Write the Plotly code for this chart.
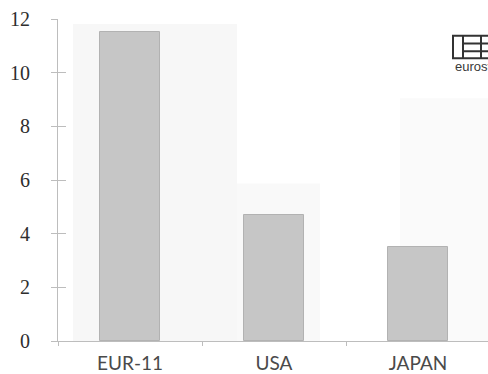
import plotly.graph_objects as go

# Values plotted per economic area
categories = ["EUR-11", "USA", "JAPAN"]
values = [11.5, 4.7, 3.5]
y_ticks = [0, 2, 4, 6, 8, 10, 12]
y_tick_labels = ["0", "2", "4", "6", "8", "10", "12"]

W, H = 488, 374
L, R, T, B = 58, 0, 19, 26
pw, ph = W - L - R, H - T - B
x_range = [-0.5, -0.5 + pw / 144.0]
y_range = [0, 12]


def px_x(p):
    return x_range[0] + (p - L) / pw * (x_range[1] - x_range[0])


def px_y(p):
    return (H - B - p) / ph * (y_range[1] - y_range[0])


def pap_x(p):
    return (p - L) / pw


def pap_y(p):
    return (H - B - p) / ph


fig = go.Figure()
fig.add_trace(go.Bar(
    x=categories, y=values, width=0.415,
    marker=dict(color="#c6c6c6", line=dict(color="#b2b2b2", width=1)),
    hoverinfo="skip",
))
# invisible trace so the secondary (inner tick) axis is drawn
fig.add_trace(go.Scatter(x=[categories[0]], y=[0], yaxis="y2", mode="markers",
                         marker=dict(opacity=0), hoverinfo="skip", showlegend=False))

shapes = []
# faint paper tone behind parts of the plot
for x0, x1, y0, y1, c in [
    (73, 237, 24, 348, "#f7f7f7"),
    (237, 320, 187, 348, "#f9f9f9"),
    (400, 488, 100, 348, "#fafafa"),
]:
    shapes.append(dict(type="rect", xref="x", yref="y", layer="below",
                       x0=px_x(x0), x1=px_x(x1), y0=px_y(y1), y1=px_y(y0),
                       fillcolor=c, line=dict(width=0)))

# eurostat logo mark
lc = dict(color="#333333", width=2)
shapes.append(dict(type="rect", xref="paper", yref="paper",
                   x0=pap_x(453), x1=pap_x(500), y0=pap_y(59), y1=pap_y(36), line=lc))
for xx in (463, 481):
    shapes.append(dict(type="line", xref="paper", yref="paper",
                       x0=pap_x(xx), x1=pap_x(xx), y0=pap_y(59), y1=pap_y(36), line=lc))
for yy in (44, 52):
    shapes.append(dict(type="line", xref="paper", yref="paper",
                       x0=pap_x(463), x1=pap_x(500), y0=pap_y(yy), y1=pap_y(yy), line=lc))

annotations = [dict(text="eurostat", xref="paper", yref="paper",
                    x=pap_x(453), y=pap_y(68), xanchor="left", yanchor="middle",
                    showarrow=False, font=dict(family="Liberation Sans", size=13, color="#3a3a3a"))]

axis_gray = "#bdbdbd"
fig.update_layout(
    width=W, height=H,
    margin=dict(l=L, r=R, t=T, b=B, pad=0),
    paper_bgcolor="white", plot_bgcolor="white",
    showlegend=False,
    bargap=0,
    shapes=shapes,
    annotations=annotations,
    xaxis=dict(
        range=x_range, showgrid=False, zeroline=False,
        showline=True, linecolor=axis_gray, linewidth=1,
        ticks="outside", tickson="boundaries", ticklen=4, tickcolor=axis_gray,
        tickfont=dict(family="Lato", size=19, color="#4a4a4a"),
        ticklabelstandoff=5,
    ),
    yaxis=dict(
        range=y_range, showgrid=False, zeroline=False,
        showline=True, linecolor=axis_gray, linewidth=1,
        tickmode="array", tickvals=y_ticks, ticktext=y_tick_labels,
        ticks="outside", ticklen=6, tickcolor=axis_gray,
        tickfont=dict(family="Liberation Serif", size=20, color="#2e2e2e"),
        ticklabelstandoff=17,
    ),
    yaxis2=dict(
        range=y_range, overlaying="y", side="left", anchor="x",
        showgrid=False, zeroline=False, showline=False,
        tickmode="array", tickvals=y_ticks, showticklabels=False,
        ticks="inside", ticklen=8, tickcolor=axis_gray,
    ),
)

fig.write_html("out.html")
